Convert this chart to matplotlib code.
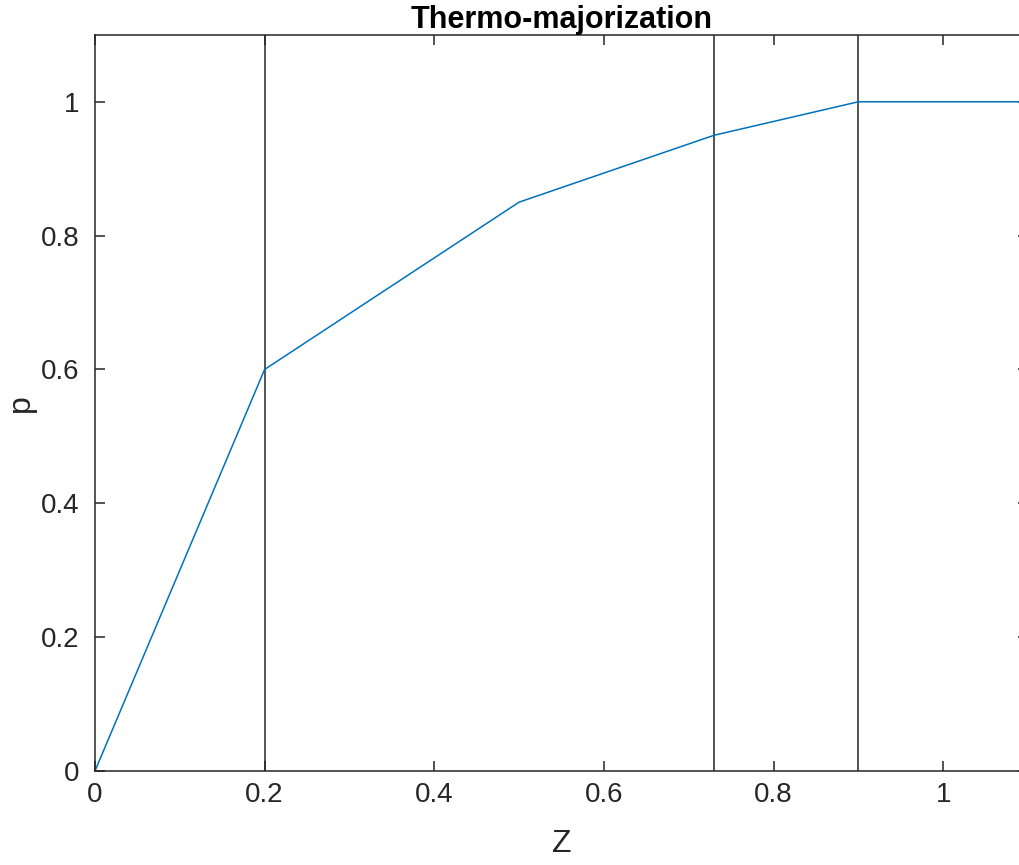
import matplotlib.pyplot as plt

# Кривая термо-мажоризации
z = [0, 0.2, 0.5, 0.73, 0.9, 1.1]
p = [0, 0.6, 0.85, 0.95, 1.0, 1.0]
vlines_x = [0.2, 0.73, 0.9]

plt.rcParams['font.family'] = ['Liberation Sans', 'DejaVu Sans']
text_color = '#262626'

fig = plt.figure(figsize=(10.19, 8.65), dpi=100)
ax = fig.add_axes([0.0932, 0.1087, 0.9156, 0.851])

for xv in vlines_x:
    ax.axvline(xv, color=text_color, linewidth=1.1)
ax.plot(z, p, color='#0072BD', linewidth=1.1)

ax.set_xlim(0, 1.1)
ax.set_ylim(0, 1.1)
ax.set_xticks([0, 0.2, 0.4, 0.6, 0.8, 1])
ax.set_xticklabels(['0', '0.2', '0.4', '0.6', '0.8', '1'])
ax.set_yticks([0, 0.2, 0.4, 0.6, 0.8, 1])
ax.set_yticklabels(['0', '0.2', '0.4', '0.6', '0.8', '1'])
ax.tick_params(direction='in', length=7, width=1.1, colors=text_color,
               labelsize=20, top=True, right=True)
ax.tick_params(axis='x', pad=8)
ax.tick_params(axis='y', pad=11)
for s in ax.spines.values():
    s.set_color(text_color)
    s.set_linewidth(1.1)

ax.set_xlabel('Z', fontsize=23, color=text_color, labelpad=15)
ax.set_ylabel('p', fontsize=23, color=text_color, labelpad=4)
ax.set_title('Thermo-majorization', fontsize=22, fontweight='bold', color='black', pad=5)

fig.savefig('out.png', dpi=100)
